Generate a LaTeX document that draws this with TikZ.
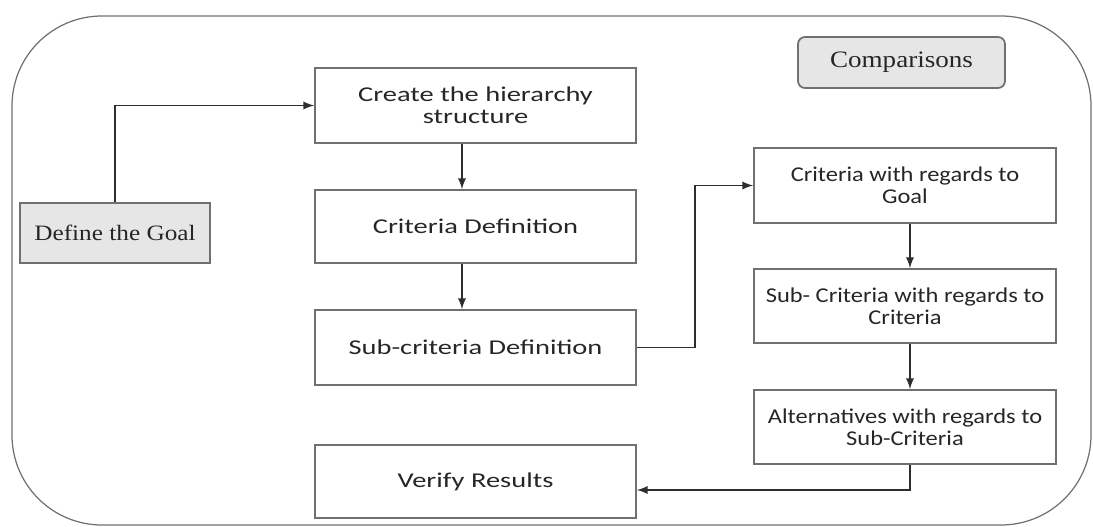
\documentclass[tikz,border=0pt]{standalone}
\usepackage{fontspec}
\newfontfamily\boxfont[FakeStretch=1.35]{Carlito}
\newfontfamily\cmpfont[FakeStretch=1.16]{Carlito}
\newfontfamily\serifbox[FakeStretch=1.15]{Liberation Serif}
\usetikzlibrary{positioning}

\definecolor{framegray}{HTML}{707070}
\definecolor{boxgray}{HTML}{E6E6E6}
\definecolor{linedark}{HTML}{2E2E2E}

\tikzset{
  stepbox/.style={draw=framegray, line width=1pt, rectangle, align=center,
    text=black!85, font=\boxfont\fontsize{12}{12.5}\selectfont,
    minimum width=6.42cm, minimum height=1.5cm, inner sep=2pt},
  compbox/.style={stepbox, minimum width=6.04cm,
    font=\cmpfont\fontsize{12}{12.5}\selectfont},
  greybox/.style={draw=framegray, line width=1pt, fill=boxgray, rectangle,
    text=black!85, font=\serifbox\fontsize{12.5}{13}\selectfont},
  flow/.style={->, >=latex, draw=linedark, line width=1.1pt}
}

\begin{document}
\begin{tikzpicture}[x=0.02cm, y=-0.02cm]

\useasboundingbox (0,0) rectangle (1093,527);

% outer frame
\draw[framegray, line width=0.7pt, rounded corners=1.8cm] (12,16) rectangle (1091,525);

\node[greybox, minimum width=3.8cm, minimum height=1.2cm] (G) at (115,233)
{Define the Goal};%

\node[greybox, rounded corners=4pt, minimum width=4.14cm, minimum height=1.02cm,
  font=\serifbox\fontsize{13.4}{14}\selectfont] (K) at (901.5,62.5)
{Comparisons};%

\node[stepbox] (H) at (475.5,105.5)
{Create the hierarchy\\ structure};%

\node[stepbox, minimum height=1.46cm] (C) at (475.5,226.5)
{Criteria Definition};%

\node[stepbox] (S) at (475.5,347.5)
{Sub-criteria Definition};%

\node[stepbox, minimum height=1.46cm] (V) at (475.5,481.5)
{Verify Results};%

\node[compbox] (CG) at (905,185.5)
{Criteria with regards to\\ Goal};%

\node[compbox, minimum height=1.48cm] (SC) at (905,306)
{Sub- Criteria with regards to\\ Criteria};%

\node[compbox, minimum height=1.48cm] (A) at (905,427)
{Alternatives with regards to\\ Sub-Criteria};%

\draw[flow] (G.north) |- (H.west);
\draw[flow] ([xshift=-0.27cm]H.south) -- ([xshift=-0.27cm]C.north);
\draw[flow] ([xshift=-0.27cm]C.south) -- ([xshift=-0.27cm]S.north);
\draw[flow] (S.east) -- ++(58,0) |- (CG.west);
\draw[flow] ([xshift=0.1cm]CG.south) -- ([xshift=0.1cm]SC.north);
\draw[flow] ([xshift=0.1cm]SC.south) -- ([xshift=0.1cm]A.north);
\draw[flow] ([xshift=0.1cm]A.south) |- ([yshift=-0.17cm]V.east);

\end{tikzpicture}
\end{document}
